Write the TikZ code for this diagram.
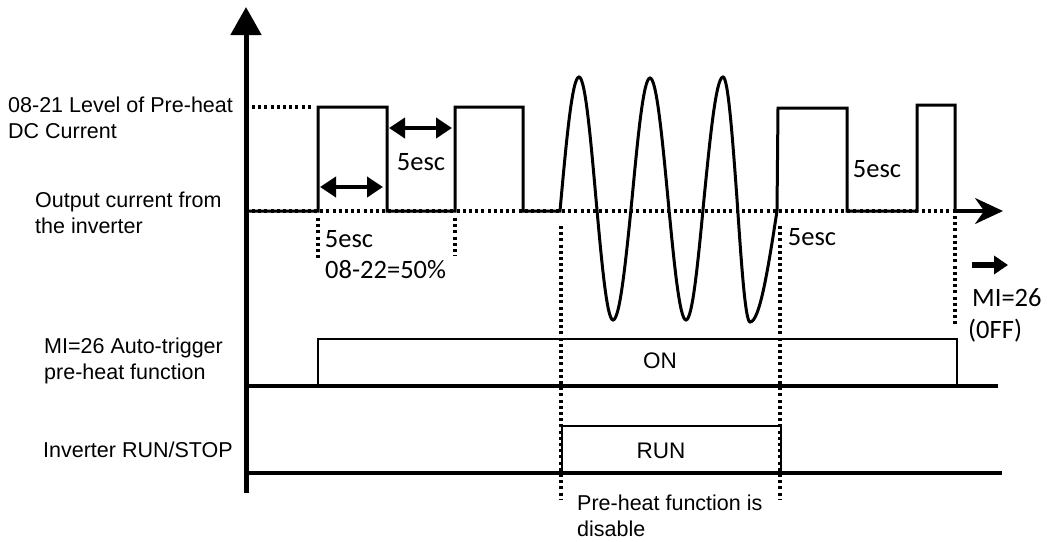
\documentclass[tikz,border=0pt]{standalone}
\usepackage{fontspec}
\setmainfont{Liberation Sans}
\newfontfamily\calfont{Carlito}
\usetikzlibrary{arrows.meta}

\begin{document}
\begin{tikzpicture}[x=1pt, y=-1pt, >=stealth,
    sig/.style={line width=3pt, line join=miter},
    rail/.style={line width=3.2pt},
    boxline/.style={line width=1.6pt},
    dots/.style={line width=3.5pt, dash pattern=on 3pt off 3.2pt},
    lbl/.style={font={\fontsize{21.5}{26.5}\selectfont}, align=left, inner sep=0pt, anchor=west},
    esc/.style={font={\calfont\fontsize{26.5}{30}\selectfont}, inner sep=0pt},
    span/.style={line width=4pt, {Triangle[length=16pt,width=20pt]}-{Triangle[length=16pt,width=20pt]}}]
    \useasboundingbox (0,0) rectangle (1047,541);

    % Nhãn bên trái
    \node[lbl] (lvl) at (8,118) {08-21 Level of Pre-heat\\DC Current};
    \node[lbl] (out) at (35,213) {Output current from\\the inverter};
    \node[lbl] (mi) at (44,361) {MI=26 Auto-trigger\\pre-heat function};
    \node[lbl] (runstop) at (43,450) {Inverter RUN/STOP};

    % Đường chấm
    \draw[dots] (252,107) -- (312,107);
    \draw[dots] (252,211) -- (955,211);
    \draw[dots] (318,218) -- (318,258);
    \draw[dots] (455,218) -- (455,256);
    \draw[dots] (561,226) -- (561,500);
    \draw[dots] (780,226) -- (780,500);
    \draw[dots] (955,216) -- (955,325);

    % Trục
    \draw[line width=5pt, -{Triangle[length=28pt,width=30pt]}] (246,493) -- (246,7);

    % Dòng điện ra
    \draw[sig] (246,211) -- (318,211) -- (318,107) -- (387,107) -- (387,211)
        -- (455,211) -- (455,107) -- (523,107) -- (523,211) -- (560,211)
        sin (579,77) cos (596,199) sin (613,320) cos (632,199)
        sin (650,78) cos (668,199) sin (686,320) cos (704,199)
        sin (723,77) cos (737,199) sin (750,322) cos (777,211)
        -- (778,108) -- (847,108) -- (847,211) -- (917,211)
        -- (917,105) -- (955,105) -- (955,211);
    \coordinate (tail) at (955,211);
    \coordinate (head) at (1003,211);
    \draw[rail, -{Stealth[length=28pt,width=26pt]}] (tail) -- (head);

    % 5esc
    \coordinate (a1) at (320,187);
    \coordinate (a2) at (383,187);
    \coordinate (b1) at (389,128);
    \coordinate (b2) at (452,128);
    \draw[span] (a1) -- (a2);
    \draw[span] (b1) -- (b2);
    \node[esc] (t1) at (421,162) {5esc};
    \node[esc] (t2) at (349,239) {5esc};
    \node[esc, anchor=west] (duty) at (325,270) {08-22=50\%};
    \node[esc] (t3) at (812,237) {5esc};
    \node[esc] (t4) at (877,169) {5esc};

    % MI=26 (0FF)
    \coordinate (m1) at (972,265);
    \coordinate (m2) at (1008,265);
    \draw[line width=6pt, -{Triangle[length=14pt,width=18pt]}] (m1) -- (m2);
    \node[esc, anchor=west] (mioff) at (972,298) {MI=26};
    \node[esc, anchor=west] (off) at (968,331) {(0FF)};

    % MI=26 ON
    \draw[boxline] (318,386) -- (318,339) -- (957,339) -- (957,386);
    \draw[rail] (246,386) -- (998,386);
    \node[font={\fontsize{22.5}{27}\selectfont}] (on) at (660,361) {ON};

    % RUN
    \draw[boxline] (562,473) -- (562,426) -- (781,426) -- (781,473);
    \draw[rail] (246,473) -- (1002,473);
    \node[font={\fontsize{22.5}{27}\selectfont}] (run) at (661,451) {RUN};

    \node[lbl] (dis) at (577,516) {Pre-heat function is\\disable};
\end{tikzpicture}
\end{document}
